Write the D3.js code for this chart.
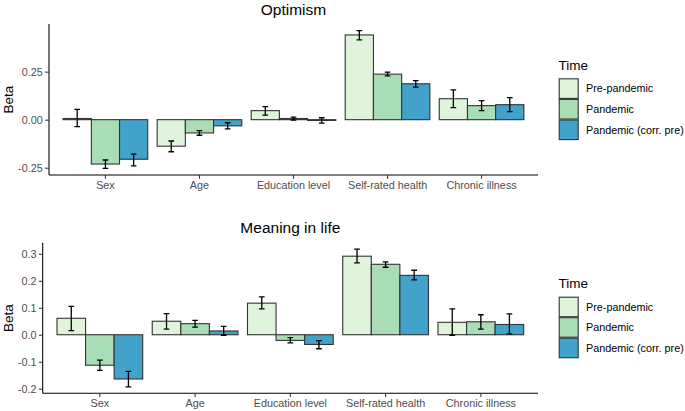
<!DOCTYPE html>
<html><head><meta charset="utf-8">
<script src="https://cdn.jsdelivr.net/npm/d3@7"></script>
<style>body{margin:0;background:#fff}svg{display:block}text{font-family:"Liberation Sans",Arial,sans-serif}</style>
</head><body><svg id="c" width="685" height="411"></svg>
<script>
const categories = ["Sex","Age","Education level","Self-rated health","Chronic illness"];
const series = ["Pre-pandemic","Pandemic","Pandemic (corr. pre)"];
const colors = ["#e0f3db","#a8ddb5","#43a2ca"];

// Optimism
const optValues = [[0.006,-0.231,-0.206],[-0.138,-0.069,-0.032],[0.047,0.006,-0.004],[0.441,0.237,0.187],[0.109,0.073,0.078]];
const optLower  = [[-0.036,-0.253,-0.240],[-0.167,-0.081,-0.048],[0.024,-0.002,-0.018],[0.415,0.228,0.169],[0.063,0.047,0.042]];
const optUpper  = [[0.054,-0.210,-0.179],[-0.111,-0.057,-0.016],[0.068,0.013,0.010],[0.464,0.248,0.203],[0.155,0.099,0.115]];
const optTicks = [-0.25,0,0.25];

// Meaning in life
const milValues = [[0.061,-0.113,-0.164],[0.050,0.041,0.014],[0.117,-0.021,-0.036],[0.291,0.261,0.220],[0.046,0.048,0.038]];
const milLower  = [[0.015,-0.132,-0.193],[0.021,0.028,-0.002],[0.096,-0.030,-0.052],[0.266,0.250,0.203],[-0.002,0.021,0.003]];
const milUpper  = [[0.105,-0.094,-0.136],[0.078,0.053,0.031],[0.140,-0.011,-0.022],[0.317,0.270,0.239],[0.096,0.074,0.077]];
const milTicks = [-0.2,-0.1,0,0.1,0.2,0.3];

const svg = d3.select("#c");
const loc = d3.formatLocale({decimal:".",thousands:",",grouping:[3],currency:["",""],minus:"-"});

function panel(cfg){
  const g = svg.append("g");
  const x = d3.scaleBand().domain(categories).range([cfg.x0,cfg.x1]).paddingInner(0.1).paddingOuter(0.15);
  const xs = d3.scaleBand().domain(series).range([0,x.bandwidth()]);
  const y = d3.scaleLinear().domain(cfg.domain).range([cfg.y1,cfg.y0]);
  // title
  g.append("text").attr("x",(cfg.x0+cfg.x1)/2).attr("y",cfg.titleY).attr("text-anchor","middle")
    .attr("font-size","15.5px").attr("fill","#000").text(cfg.title);
  // y label
  g.append("text").attr("transform",`translate(13.3,${(cfg.y0+cfg.y1)/2}) rotate(-90)`).attr("text-anchor","middle")
    .attr("font-size","13.5px").attr("fill","#000").text("Beta");
  // bars
  categories.forEach((c,i)=>{
    series.forEach((s,j)=>{
      const v = cfg.values[i][j];
      g.append("rect").attr("x",x(c)+xs(s)).attr("width",xs.bandwidth())
        .attr("y",y(Math.max(0,v))).attr("height",Math.abs(y(v)-y(0)))
        .attr("fill",colors[j]).attr("stroke","#333").attr("stroke-width",1.1);
    });
  });
  // error bars
  categories.forEach((c,i)=>{
    series.forEach((s,j)=>{
      const cx = x(c)+xs(s)+xs.bandwidth()/2, hw = xs.bandwidth()*0.1;
      const lo = y(cfg.lower[i][j]), hi = y(cfg.upper[i][j]);
      const p = `M${cx-hw},${hi}H${cx+hw}M${cx},${hi}V${lo}M${cx-hw},${lo}H${cx+hw}`;
      g.append("path").attr("d",p).attr("stroke","#000").attr("stroke-width",1.3).attr("fill","none");
    });
  });
  // y axis
  const ya = g.append("g").attr("transform",`translate(${cfg.x0},0)`)
    .call(d3.axisLeft(y).tickValues(cfg.ticks).tickFormat(loc.format(cfg.fmt)).tickSize(3.8).tickPadding(2.5));
  ya.select(".domain").attr("d",`M0,${cfg.y0}V${cfg.y1}`).attr("stroke","#000").attr("stroke-width",1.07);
  ya.selectAll(".tick line").attr("stroke","#333").attr("stroke-width",1.07);
  ya.selectAll(".tick text").attr("fill","#4d4d4d").attr("font-size","10.8px").attr("font-family","Liberation Sans, Arial, sans-serif");
  // x axis
  const xa = g.append("g").attr("transform",`translate(0,${cfg.y1})`)
    .call(d3.axisBottom(x).tickSize(3.8).tickPadding(2.5));
  xa.select(".domain").attr("d",`M${cfg.x0},0H${cfg.x1}`).attr("stroke","#000").attr("stroke-width",1.07);
  xa.selectAll(".tick line").attr("stroke","#333").attr("stroke-width",1.07);
  xa.selectAll(".tick text").attr("fill","#4d4d4d").attr("font-size","10.8px").attr("font-family","Liberation Sans, Arial, sans-serif");
  // legend
  const lg = g.append("g");
  lg.append("text").attr("x",558.5).attr("y",cfg.legY).attr("font-size","13.5px").attr("fill","#000").text("Time");
  series.forEach((s,j)=>{
    const ky = cfg.keyY + j*cfg.keyH;
    lg.append("rect").attr("x",559.2).attr("y",ky+0.5).attr("width",19).attr("height",cfg.keyH-1)
      .attr("fill",colors[j]).attr("stroke","#333").attr("stroke-width",1.1);
    lg.append("text").attr("x",586).attr("y",ky+cfg.keyH/2).attr("dy","0.35em")
      .attr("font-size","10.8px").attr("fill","#000").text(s);
  });
}

panel({title:"Optimism",titleY:14.5,x0:49,x1:538,y0:24,y1:175,domain:[-0.288,0.498],
  values:optValues,lower:optLower,upper:optUpper,ticks:optTicks,fmt:".2f",legY:70,keyY:78.3,keyH:20.6});
panel({title:"Meaning in life",titleY:232.5,x0:42.7,x1:538,y0:242.7,y1:393.3,domain:[-0.217,0.341],
  values:milValues,lower:milLower,upper:milUpper,ticks:milTicks,fmt:".1f",legY:288.3,keyY:296.7,keyH:20.5});
</script></body></html>
